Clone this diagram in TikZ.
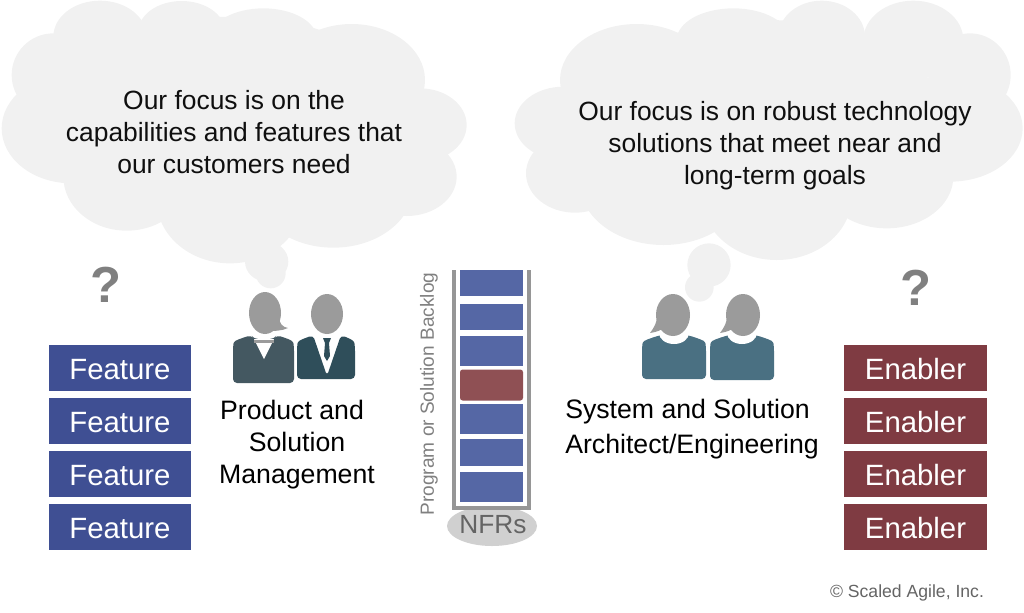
\documentclass[tikz,border=0pt]{standalone}
\usepackage{fontspec}
\setmainfont{Liberation Sans}
\usetikzlibrary{positioning}
\definecolor{ink}{RGB}{15,15,15}
\definecolor{cloudgray}{RGB}{241,241,241}
\definecolor{featblue}{RGB}{63,79,147}
\definecolor{enabred}{RGB}{127,59,66}
\definecolor{cardblue}{RGB}{85,103,165}
\definecolor{cardred}{RGB}{143,80,84}
\definecolor{rail}{RGB}{150,150,150}
\definecolor{soft}{RGB}{128,128,128}
\definecolor{nfrfill}{RGB}{208,208,208}
\definecolor{nfrtext}{RGB}{100,100,100}
\definecolor{headgray}{RGB}{155,155,155}
\definecolor{womansuit}{RGB}{68,88,97}
\definecolor{mansuit}{RGB}{47,78,90}
\definecolor{archsuit}{RGB}{74,112,130}
\tikzset{
  every picture/.style={x=0.75pt, y=-0.75pt},
  item/.style={inner sep=0pt, outer sep=0pt, minimum width=107pt, minimum height=34.5pt, text=white,
    text height=17pt, text depth=0pt, font=\fontsize{22}{26}\selectfont},
  feature/.style={item, fill=featblue},
  enabler/.style={item, fill=enabred},
  card/.style={inner sep=0pt, minimum width=47.25pt, fill=cardblue},
  redcard/.style={card, fill=cardred, rounded corners=2pt},
  said/.style={align=center, text=ink, inner sep=0pt, font=\fontsize{19.8}{24}\selectfont},
  who/.style={said, text=black, font=\fontsize{20}{24}\selectfont},
  query/.style={text=soft, inner sep=0pt, font=\fontsize{38}{42}\selectfont\bfseries},
  head/.style={fill=headgray},
  body/.style={rounded corners=3pt},
}
\begin{document}
\begin{tikzpicture}
  \useasboundingbox (0,0) rectangle (1024,612);
  % thought clouds
  \begin{scope}[x=0.25pt, y=-0.25pt]
    \foreach \cx/\cy/\rx/\ry in {300/110/140/108, 545/95/130/92, 790/115/160/90, 1055/240/220/168,
      160/225/125/125, 215/385/210/165, 380/530/190/162, 690/600/220/190, 1000/560/240/183,
      1260/375/140/110, 1220/530/150/118, 700/350/520/300, 800/785/65/60, 812/820/45/45}
      \fill[cloudgray] (\cx,\cy) ellipse [x radius=\rx, y radius=\ry];
    \begin{scope}[xshift=375pt]
      \foreach \cx/\cy/\rx/\ry in {1240/120/150/118, 965/110/130/108, 700/120/170/95, 410/240/230/168,
        1410/225/122/125, 1350/385/218/160, 1160/530/200/155, 830/590/225/190, 490/550/250/185,
        190/370/146/110, 225/520/147/118, 800/350/520/290, 627/795/65/65, 598/862/43/43}
        \fill[cloudgray] (\cx,\cy) ellipse [x radius=\rx, y radius=\ry];
    \end{scope}
  \end{scope}
  \node[said] (leftsay) at (234,132) {Our focus is on the\\capabilities and features that\\our customers need};
  \node[said] (rightsay) at (775,146) {Our focus is on robust technology\\solutions that meet near and\\long-term goals};
  % feature and enabler stacks
  \node[query] (leftq) at (106,285) {?};
  \node[query] (rightq) at (916,288) {?};
  \node[feature] (feat1) at (120,368) {Feature};
  \node[feature, below=5.25pt of feat1] (feat2) {Feature};
  \node[feature, below=5.25pt of feat2] (feat3) {Feature};
  \node[feature, below=5.25pt of feat3] (feat4) {Feature};
  \node[enabler] (enab1) at (915.5,368) {Enabler};
  \node[enabler, below=5.25pt of enab1] (enab2) {Enabler};
  \node[enabler, below=5.25pt of enab2] (enab3) {Enabler};
  \node[enabler, below=5.25pt of enab3] (enab4) {Enabler};
  % product people
  \fill[womansuit, body] (233,383) -- (233,347) .. controls (234,340) and (243,338) .. (251,335)
    -- (254,339) -- (274,339) -- (277,335) .. controls (285,338) and (293,340) .. (294,347) -- (294,383) -- cycle;
  \fill[white] (254,339) -- (274,339) -- (264,359) -- cycle;
  \fill[headgray] (254,340) rectangle (274,343);
  \fill[head] (265,313) ellipse [x radius=16, y radius=21];
  \fill[head] (279,316) .. controls (279,323) and (282,327) .. (288,328) .. controls (282,331) and (274,331) .. (266,331) -- cycle;
  \fill[mansuit, body] (297,379) -- (297,347) .. controls (298,340) and (306,338) .. (313,335)
    -- (327,376) -- (341,335) .. controls (348,338) and (354,340) .. (355,347) -- (355,379) -- cycle;
  \fill[mansuit] (323,338) -- (331,338) -- (329,343) -- (330,356) -- (327,361) -- (324,356) -- (325,343) -- cycle;
  \fill[head] (327,314) ellipse [x radius=16, y radius=20];
  \node[who] (product) at (297,444.5) {Product and\hspace*{7.5pt}\\Solution\\Management};
  % backlog
  \fill[nfrfill] (492,526) ellipse [x radius=45, y radius=20];
  \draw[rail, line width=2.6pt] (454,270) -- (454,508) -- (529,508) -- (529,270);
  \node[card, minimum height=19.5pt] (card1) at (491.5,283) {};
  \node[card, minimum height=19.5pt] (card2) at (491.5,317) {};
  \node[card, minimum height=22pt] (card3) at (491.5,351) {};
  \node[redcard, minimum height=23.25pt] (card4) at (491.5,385) {};
  \node[card, minimum height=22pt] (card5) at (491.5,419) {};
  \node[card, minimum height=20pt] (card6) at (491.5,452.5) {};
  \node[card, minimum height=22pt] (card7) at (491.5,487) {};
  \node[text=nfrtext, inner sep=0pt, font=\fontsize{19.7}{22}\selectfont] (nfrs) at (493,525) {NFRs};
  \node[rotate=90, text=soft, inner sep=0pt, font=\fontsize{14.3}{16}\selectfont] (backlog) at (429,394) {Program or Solution Backlog};
  % architects
  \fill[archsuit, body] (642,379) -- (642,347) .. controls (643,340) and (652,338) .. (660,335)
    -- (688,335) .. controls (696,338) and (705,340) .. (706,347) -- (706,379) -- cycle;
  \fill[white] (674,333) ellipse [x radius=15, y radius=11];
  \fill[head] (673,315) ellipse [x radius=17, y radius=21];
  \fill[head] (658,314) .. controls (657,322) and (654,328) .. (650,333) .. controls (657,332) and (662,330) .. (666,326) -- cycle;
  \fill[archsuit, body] (710,380) -- (710,347) .. controls (711,340) and (720,338) .. (728,335)
    -- (756,335) .. controls (764,338) and (773,340) .. (774,347) -- (774,380) -- cycle;
  \fill[white] (742,333) ellipse [x radius=15, y radius=11];
  \fill[head] (743,315) ellipse [x radius=17, y radius=21];
  \fill[head] (728,314) .. controls (727,322) and (724,328) .. (720,333) .. controls (727,332) and (732,330) .. (736,326) -- cycle;
  \node[who, align=left, anchor=west, font=\fontsize{20}{26.25}\selectfont] (system) at (565,429) {System and Solution\\Architect/Engineering};
  \node[text=nfrtext, inner sep=0pt, font=\fontsize{13.2}{15}\selectfont] (credit) at (907,592.5) {© Scaled Agile, Inc.};
\end{tikzpicture}
\end{document}
